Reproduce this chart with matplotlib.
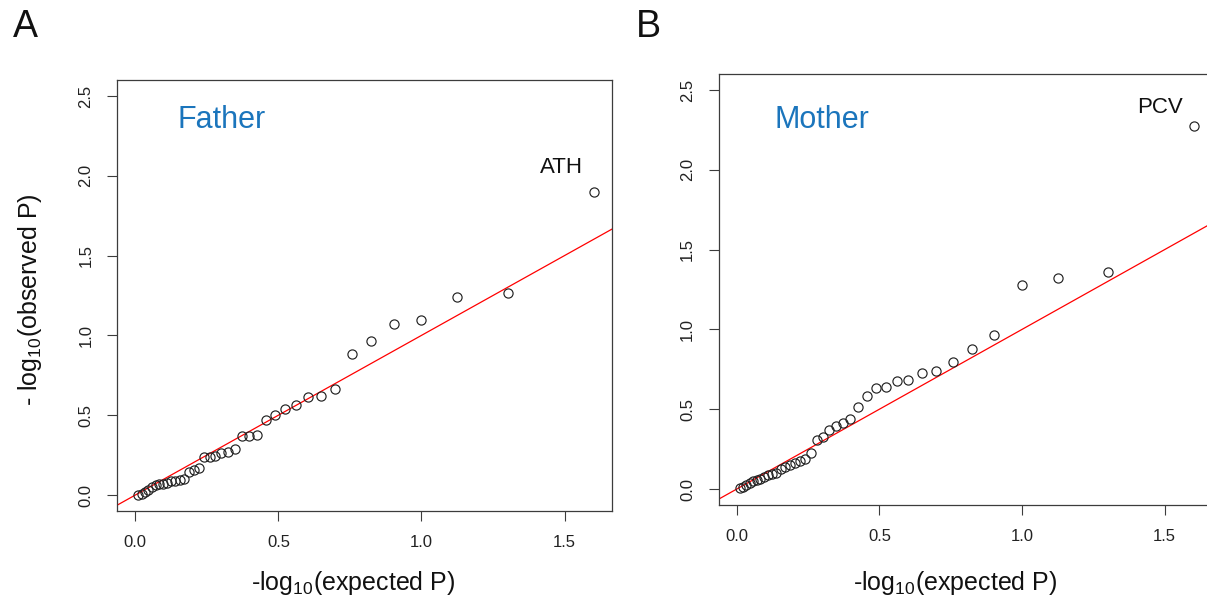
import matplotlib

matplotlib.use("Agg")
import matplotlib.pyplot as plt

W, H = 1207, 611
TEXT_DARK = "#111111"
FRAME = "#3c3c3c"
TITLE_BLUE = "#1b75bc"

plt.rcParams["font.family"] = ["Liberation Sans", "DejaVu Sans"]
plt.rcParams["mathtext.default"] = "regular"

# expected -log10(P) for the 39 tests, largest first
expected = [1.602, 1.301, 1.125, 1.000, 0.903, 0.824, 0.757, 0.699, 0.648, 0.602,
            0.561, 0.523, 0.488, 0.456, 0.426, 0.398, 0.372, 0.347, 0.323, 0.301,
            0.280, 0.260, 0.240, 0.222, 0.204, 0.187, 0.170, 0.155, 0.139, 0.125,
            0.111, 0.097, 0.083, 0.071, 0.058, 0.046, 0.034, 0.022, 0.011]

father_obs = [1.898, 1.263, 1.238, 1.097, 1.074, 0.965, 0.884, 0.664, 0.623, 0.612,
              0.562, 0.542, 0.500, 0.470, 0.378, 0.371, 0.367, 0.291, 0.272, 0.262,
              0.246, 0.240, 0.236, 0.172, 0.158, 0.142, 0.098, 0.093, 0.089, 0.085,
              0.078, 0.072, 0.068, 0.060, 0.052, 0.031, 0.022, 0.009, 0.001]

mother_obs = [2.274, 1.358, 1.324, 1.276, 0.963, 0.875, 0.796, 0.739, 0.725, 0.683,
              0.675, 0.640, 0.633, 0.583, 0.514, 0.440, 0.413, 0.395, 0.370, 0.324,
              0.307, 0.228, 0.190, 0.174, 0.165, 0.152, 0.140, 0.123, 0.100, 0.094,
              0.086, 0.077, 0.065, 0.056, 0.053, 0.040, 0.027, 0.015, 0.006]

x_ticks = [0.0, 0.5, 1.0, 1.5]
y_ticks = [0.0, 0.5, 1.0, 1.5, 2.0, 2.5]


def _rect(left, top, right, bottom):
    # pixel box -> figure fraction
    return [left / W, 1 - bottom / H, (right - left) / W, (bottom - top) / H]


def _qq_panel(fig, rect, obs, title, top_label, top_xy, title_xy):
    ax = fig.add_axes(rect)
    ax.plot(expected, obs, linestyle="none", marker="o", markersize=6.6,
            markerfacecolor="none", markeredgecolor="#222222", markeredgewidth=0.85,
            clip_on=False, zorder=3)
    ax.axline((0, 0), slope=1.0, color="red", linewidth=0.9, zorder=2)
    ax.set_xlim(-0.064, 1.666)
    ax.set_ylim(-0.1, 2.6)
    ax.set_xticks(x_ticks)
    ax.set_xticklabels([f"{v:.1f}" for v in x_ticks])
    ax.set_yticks(y_ticks)
    ax.set_yticklabels([f"{v:.1f}" for v in y_ticks])
    ax.tick_params(direction="out", length=7, width=0.8, color=FRAME,
                   labelsize=12, labelcolor="#222222", pad=10)
    ax.tick_params(axis="y", labelrotation=90)
    for lbl in ax.get_yticklabels():
        lbl.set_verticalalignment("center")
    for spine in ax.spines.values():
        spine.set_color(FRAME)
        spine.set_linewidth(0.9)

    fig.text(title_xy[0] / W, 1 - title_xy[1] / H, title, color=TITLE_BLUE,
             fontsize=22, ha="center", va="baseline")
    fig.text(top_xy[0] / W, 1 - top_xy[1] / H, top_label, color=TEXT_DARK,
             fontsize=16, ha="center", va="baseline")
    return ax


def main():
    fig = plt.figure(figsize=(W / 100, H / 100), dpi=100)

    _qq_panel(fig, _rect(117, 80, 612, 511), father_obs, "Father", "ATH",
              (561, 173), (222, 128))
    _qq_panel(fig, _rect(718.5, 74, 1212, 505), mother_obs, "Mother", "PCV",
              (1160, 113), (822, 128))

    fig.text(25 / W, 1 - 37 / H, "A", fontsize=27, ha="center", va="baseline", color=TEXT_DARK)
    fig.text(648 / W, 1 - 37 / H, "B", fontsize=27, ha="center", va="baseline", color=TEXT_DARK)

    xlab = r"-log$_{\mathsf{10}}$(expected P)"
    xlab = r"-log$_{10}$(expected P)"
    fig.text(353 / W, 1 - 583 / H, xlab, fontsize=18, ha="center", va="center", color=TEXT_DARK)
    fig.text(955 / W, 1 - 583 / H, xlab, fontsize=18, ha="center", va="center", color=TEXT_DARK)
    fig.text(30 / W, 1 - 300 / H, r"- log$_{10}$(observed P)", fontsize=18, rotation=90,
             ha="center", va="center", color=TEXT_DARK)

    fig.savefig("out.png", dpi=100)
    plt.close(fig)


if __name__ == "__main__":
    main()
